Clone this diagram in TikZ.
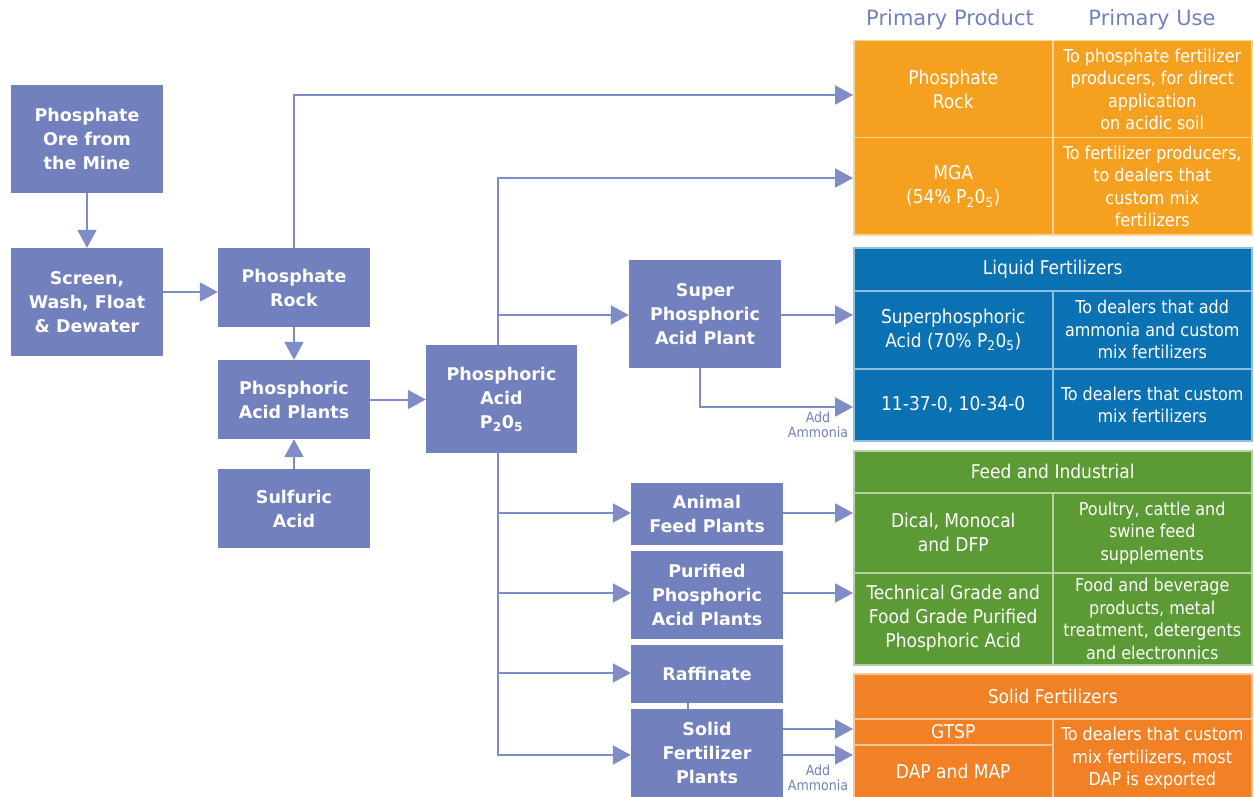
\documentclass[tikz,border=0pt]{standalone}
\usepackage{fontspec}
\setmainfont{DejaVu Sans}
\newfontfamily\condfont{DejaVu Sans Condensed}
\usetikzlibrary{arrows.meta}
\definecolor{boxc}{RGB}{115,128,190}
\definecolor{linec}{RGB}{128,140,200}
\definecolor{orA}{RGB}{245,160,30}
\definecolor{blA}{RGB}{10,113,179}
\definecolor{grA}{RGB}{91,154,52}
\definecolor{orB}{RGB}{242,128,37}
\begin{document}
\begin{tikzpicture}[x=1pt,y=-1pt,
 proc/.style={fill=boxc, text=white, font=\fontsize{17.5}{24}\selectfont\bfseries, align=center, inner sep=0pt, minimum width=152pt},
 cell/.style={fill=#1, draw=#1!45!white, line width=1.5pt, text=white, font=\condfont\fontsize{17.8}{22.5}\selectfont, align=center, inner sep=0pt, anchor=north west},
 big/.style={font=\condfont\fontsize{19}{24}\selectfont},
 flow/.style={draw=linec, line width=2pt, -{Triangle[length=18pt,width=19pt]}},
 plain/.style={draw=linec, line width=2pt},
 hdr/.style={text=boxc, font=\fontsize{21}{24}\selectfont},
 note/.style={text=boxc, font=\condfont\fontsize{14}{15}\selectfont, align=center, inner sep=0pt}
]
\useasboundingbox (0,0) rectangle (1254,797);

% process boxes
\node[proc, minimum height=108pt] (Ore) at (87,139) {Phosphate\\Ore from\\the Mine};
\node[proc, minimum height=108pt] (Screen) at (87,302) {Screen,\\Wash, Float\\\& Dewater};
\node[proc, minimum height=79pt] (Rock) at (294,287.5) {Phosphate\\Rock};
\node[proc, minimum height=79pt] (Plants) at (294,399.5) {Phosphoric\\Acid Plants};
\node[proc, minimum height=79pt] (Sulf) at (294,508.5) {Sulfuric\\Acid};
\node[proc, minimum width=151pt, minimum height=108pt] (PA) at (501.5,399) {Phosphoric\\Acid\\P\textsubscript{2}0\textsubscript{5}};
\node[proc, minimum height=108pt] (Super) at (705,314) {Super\\Phosphoric\\Acid Plant};
\node[proc, minimum height=62pt] (Animal) at (707,514) {Animal\\Feed Plants};
\node[proc, minimum height=88pt] (Purified) at (707,595) {Purified\\Phosphoric\\Acid Plants};
\node[proc, minimum height=58pt] (Raff) at (707,674) {Raffinate};
\node[proc, minimum height=88pt] (Solid) at (707,753) {Solid\\Fertilizer\\Plants};

% headers
\node[hdr] (hP) at (950,20) {Primary Product};
\node[hdr] (hU) at (1152,20) {Primary Use};

% orange table
\node[cell=orA, big, minimum width=199pt, minimum height=97pt] (prRock) at (853,40) {Phosphate\\Rock};
\node[cell=orA, minimum width=199pt, minimum height=97pt] (useRock) at (1052,40) {To phosphate fertilizer\\producers, for direct\\application\\on acidic soil};
\node[cell=orA, big, minimum width=199pt, minimum height=97pt] (mga) at (853,137) {MGA\\(54\% P\textsubscript{2}0\textsubscript{5})};
\node[cell=orA, minimum width=199pt, minimum height=97pt] (useMga) at (1052,137) {To fertilizer producers,\\to dealers that\\custom mix\\fertilizers};

% blue table
\node[cell=blA, big, minimum width=398pt, minimum height=43pt] (liq) at (853,247) {Liquid Fertilizers};
\node[cell=blA, big, minimum width=199pt, minimum height=78pt] (spa) at (853,290) {Superphosphoric\\Acid (70\% P\textsubscript{2}0\textsubscript{5})};
\node[cell=blA, minimum width=199pt, minimum height=78pt] (useSpa) at (1052,290) {To dealers that add\\ammonia and custom\\mix fertilizers};
\node[cell=blA, big, minimum width=199pt, minimum height=72pt] (n1137) at (853,368) {11-37-0, 10-34-0};
\node[cell=blA, minimum width=199pt, minimum height=72pt] (use1137) at (1052,368) {To dealers that custom\\mix fertilizers};

% green table
\node[cell=grA, big, minimum width=398pt, minimum height=42pt] (feed) at (853,450) {Feed and Industrial};
\node[cell=grA, big, minimum width=199pt, minimum height=80pt] (dical) at (853,492) {Dical, Monocal\\and DFP};
\node[cell=grA, minimum width=199pt, minimum height=80pt] (useDical) at (1052,492) {Poultry, cattle and\\swine feed\\supplements};
\node[cell=grA, big, minimum width=199pt, minimum height=92pt] (tech) at (853,572) {Technical Grade and\\Food Grade Purified\\Phosphoric Acid};
\node[cell=grA, minimum width=199pt, minimum height=92pt] (useTech) at (1052,572) {Food and beverage\\products, metal\\treatment, detergents\\and electronnics};

% solid table
\node[cell=orB, big, minimum width=398pt, minimum height=45pt] (solidH) at (853,673) {Solid Fertilizers};
\node[cell=orB, big, minimum width=199pt, minimum height=26pt] (gtsp) at (853,718) {GTSP};
\node[cell=orB, big, minimum width=199pt, minimum height=53pt] (dap) at (853,744) {DAP and MAP};
\node[cell=orB, minimum width=199pt, minimum height=79pt] (useSolid) at (1052,718) {To dealers that custom\\mix fertilizers, most\\DAP is exported};

% notes
\node[note, anchor=north] (am1) at (818,412) {Add\\Ammonia};
\node[note, anchor=north] (am2) at (818,765) {Add\\Ammonia};

% connectors
\draw[flow] (Ore) -- (Screen);
\draw[flow] (Screen.east |- 0,292) -- (Rock.west |- 0,292);
\draw[flow] (Rock) -- (Plants);
\draw[flow] (Sulf) -- (Plants);
\draw[flow] (Plants.east) -- (PA.west |- Plants.east);
\draw[flow] (Rock.north) |- (prRock.west |- 0,95);
\draw[flow] (PA.north -| 498,0) |- (mga.west |- 0,178);
\coordinate (j1) at (498,315);
\coordinate (j2) at (498,513);
\coordinate (j3) at (498,593);
\coordinate (j4) at (498,673);
\draw[flow] (j1) -- (Super.west |- j1);
\draw[flow] (PA.south -| 498,0) |- (Solid.west |- 0,755);
\draw[flow] (j2) -- (Animal.west |- j2);
\draw[flow] (j3) -- (Purified.west |- j3);
\draw[flow] (j4) -- (Raff.west |- j4);
\draw[flow] (Super.east |- 0,315) -- (spa.west |- 0,315);
\draw[flow] (Super.south -| 700,0) |- (n1137.west |- 0,407);
\draw[flow] (Animal.east |- 0,513) -- (dical.west |- 0,513);
\draw[flow] (Purified.east |- 0,593) -- (tech.west |- 0,593);
\draw[flow] (Solid.east |- 0,729) -- (gtsp.west |- 0,729);
\draw[flow] (Solid.east |- 0,755) -- (dap.west |- 0,755);
\draw[plain] (Raff.south -| 688,0) -- (Solid.north -| 688,0);
\end{tikzpicture}
\end{document}
